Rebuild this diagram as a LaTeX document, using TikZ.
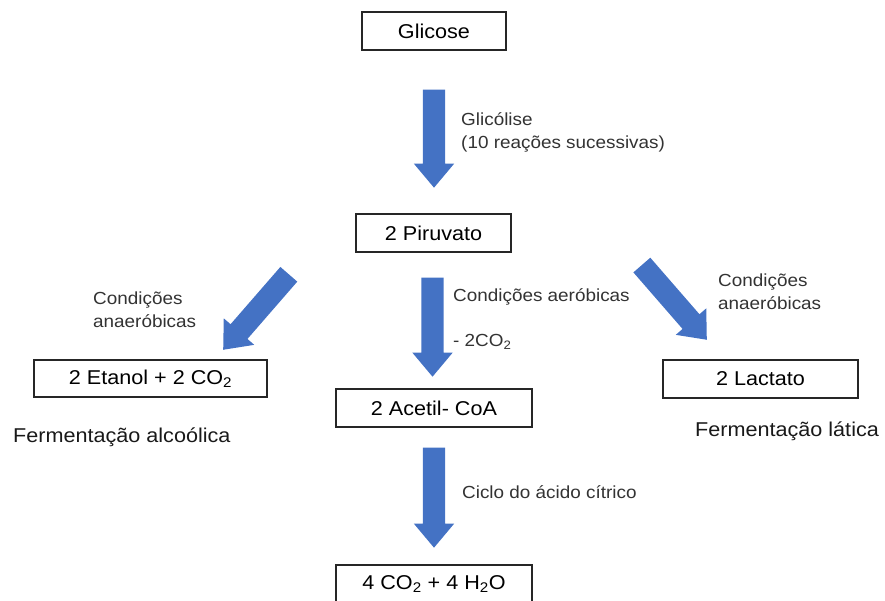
\documentclass[tikz,border=0pt]{standalone}
\usepackage{fontspec}
\setmainfont{Liberation Sans}[FakeStretch=1.08]
\usepackage{xcolor}
\usepackage{tikz}
\usetikzlibrary{shapes.arrows}
\definecolor{setaazul}{HTML}{4472C4}
\tikzset{caixa/.style={draw=black!85, line width=1.2pt, fill=white, inner sep=0pt, font=\fontsize{20}{24}\selectfont}}
\tikzset{rotulo/.style={anchor=west, inner sep=0pt, align=left, text=black!80, font=\fontsize{17.5}{23}\selectfont}}
\tikzset{titulo/.style={anchor=west, inner sep=0pt, text=black!90, font=\fontsize{20}{24}\selectfont}}
\tikzset{seta/.style={shape=single arrow, draw=none, fill=setaazul, inner xsep=0pt, inner ysep=11pt, single arrow head extend=9pt, single arrow tip angle=80, anchor=tip, minimum height=#1}}

\begin{document}
\begin{tikzpicture}[x=1pt,y=-1pt]
{
\useasboundingbox (0,0) rectangle (885,601);
% caixas
\node[caixa, minimum width=144pt, minimum height=38pt] (glicose) at (434,31) {Glicose};
\node[caixa, minimum width=155pt, minimum height=38pt] (piruvato) at (433.5,233) {2 Piruvato};
\node[caixa, minimum width=233pt, minimum height=37pt] (etanol) at (150.5,378.5) {2 Etanol + 2 CO\textsubscript{2}};
\node[caixa, minimum width=196pt, minimum height=38pt] (acetil) at (434,408) {2 Acetil- CoA};
\node[caixa, minimum width=195pt, minimum height=38pt] (lactato) at (760.5,379) {2 Lactato};
\node[caixa, minimum width=196pt, minimum height=38pt] (final) at (434,584) {4 CO\textsubscript{2} + 4 H\textsubscript{2}O};
% setas (pela ponta)
\node[seta=98pt, rotate=-90] (setaGli) at (434,188) {};
\node[seta=100pt, rotate=229] (setaEt) at (223,350) {};
\node[seta=99pt, rotate=-90] (setaAer) at (432.5,377) {};
\node[seta=99pt, rotate=-49] (setaLac) at (707,340) {};
\node[seta=100pt, rotate=-90] (setaCic) at (434,548) {};
% rotulos
\node[rotulo] (lblGli) at (461,132.5) {Glicólise\\(10 reações sucessivas)};
\node[rotulo] (lblEt) at (93,310) {Condições\\anaeróbicas};
\node[rotulo] (lblAer) at (453,297) {Condições aeróbicas};
\node[rotulo] (lblCO) at (453,342) {- 2CO\textsubscript{2}};
\node[rotulo] (lblLac) at (718,292) {Condições\\anaeróbicas};
\node[rotulo] (lblCic) at (462,492) {Ciclo do ácido cítrico};
\node[titulo] (fermAlc) at (13,437) {Fermentação alcoólica};
\node[titulo] (fermLat) at (695,431) {Fermentação lática};
}
\end{tikzpicture}
\end{document}
